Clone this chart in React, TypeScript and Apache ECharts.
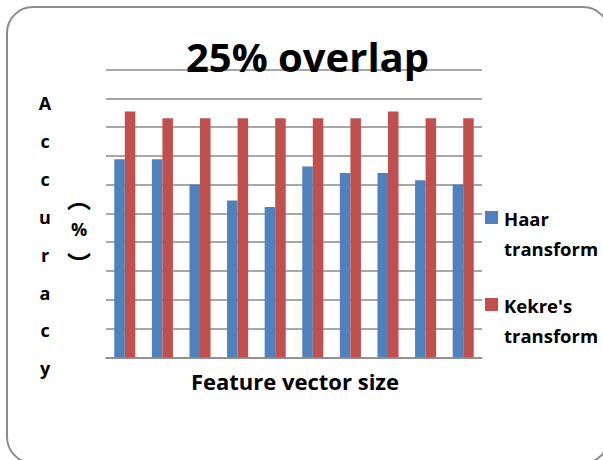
import React, { useEffect, useRef } from "react";
import * as echarts from "echarts";

// Feature vector sizes (category axis, labels not shown on the chart)
const categories = ["1", "2", "3", "4", "5", "6", "7", "8", "9", "10"];
const seriesNames = ["Haar transform", "Kekre's transform"];
// Accuracy (%) per feature vector size
const haarValues = [68.8, 68.8, 60, 54.5, 52.2, 66.3, 64, 64, 61.5, 60];
const kekreValues = [85.4, 83.1, 83.1, 83.1, 83.1, 83.1, 83.1, 85.4, 83.1, 83.1];
const yTicks = { min: 0, max: 100, interval: 10 };

const titleText = "25% overlap";
const xName = "Feature vector size";
const yNameLetters = ["A", "c", "c", "u", "r", "a", "c", "y"];
// unit written vertically: vertical-form brackets around "%"
const yUnitLetters = ["\uFE35", "%", "\uFE36"];
const legendLines = [
  ["Haar", "transform"],
  ["Kekre's", "transform"],
];

const BLUE = "#4F81BD";
const RED = "#C0504D";
const GRID = "#8a8a8a";
const FONT = "'Open Sans', Lato, sans-serif";
const CJK = "'Noto Sans CJK SC', 'Open Sans', sans-serif";

export default function App() {
  const ref = useRef<HTMLDivElement>(null);

  useEffect(() => {
    if (!ref.current) return;
    const chart = echarts.init(ref.current, undefined, { renderer: "svg" });

    const text = (
      t: string,
      x: number,
      y: number,
      size: number,
      align: string = "center",
      family: string = FONT
    ) => ({
      type: "text",
      x,
      y,
      z: 10,
      style: {
        text: t,
        fontSize: size,
        fontWeight: "bold",
        fontFamily: family,
        fill: "#000",
        align,
        verticalAlign: "middle",
      },
    });

    const graphics: any[] = [
      {
        type: "rect",
        z: -1,
        shape: { x: 7, y: 7, width: 602, height: 456, r: 26 },
        style: { fill: "none", stroke: "#8c8c8c", lineWidth: 2 },
      },
      text(titleText, 307.5, 56, 40),
      text(xName, 295, 381, 22),
    ];

    yNameLetters.forEach((ch, i) => {
      graphics.push(text(ch, 45, 103 + i * 37.9, 18));
    });
    // the vertical brackets sit at the far edge of their em box,
    // so their anchors are spread a little wider than the glyphs
    const unitY = [197, 229, 262];
    const unitSize = [24, 18, 24];
    yUnitLetters.forEach((ch, i) => {
      graphics.push(text(ch, 79, unitY[i], unitSize[i], "center", i === 1 ? FONT : CJK));
    });

    const legendColors = [BLUE, RED];
    const legendTops = [211, 298];
    legendLines.forEach((lines, i) => {
      const top = legendTops[i];
      graphics.push({
        type: "rect",
        z: 10,
        shape: { x: 485, y: top, width: 13, height: 13 },
        style: { fill: legendColors[i] },
      });
      lines.forEach((ln, j) => {
        graphics.push(text(ln, 504, top + 7 + j * 30, 18.5, "left"));
      });
    });

    chart.setOption({
      animation: false,
      backgroundColor: "#fff",
      grid: { left: 106, right: 121, top: 69.5, bottom: 102.7 },
      legend: { show: false, data: seriesNames },
      xAxis: {
        type: "category",
        data: categories,
        axisLine: { show: true, lineStyle: { color: GRID, width: 1.5 } },
        axisTick: { show: false },
        axisLabel: { show: false },
      },
      yAxis: {
        type: "value",
        min: yTicks.min,
        max: yTicks.max,
        interval: yTicks.interval,
        axisLine: { show: false },
        axisTick: { show: false },
        axisLabel: { show: false },
        splitLine: { show: true, lineStyle: { color: GRID, width: 1.5 } },
      },
      series: [
        {
          name: seriesNames[0],
          type: "bar",
          data: haarValues,
          barGap: "0%",
          barCategoryGap: "44%",
          itemStyle: { color: BLUE },
        },
        {
          name: seriesNames[1],
          type: "bar",
          data: kekreValues,
          barGap: "0%",
          barCategoryGap: "44%",
          itemStyle: { color: RED },
        },
      ],
      graphic: graphics,
    });

    return () => chart.dispose();
  }, []);

  return (
    <div
      ref={ref}
      style={{ position: "fixed", left: 0, top: 0, width: 603, height: 460 }}
    />
  );
}
